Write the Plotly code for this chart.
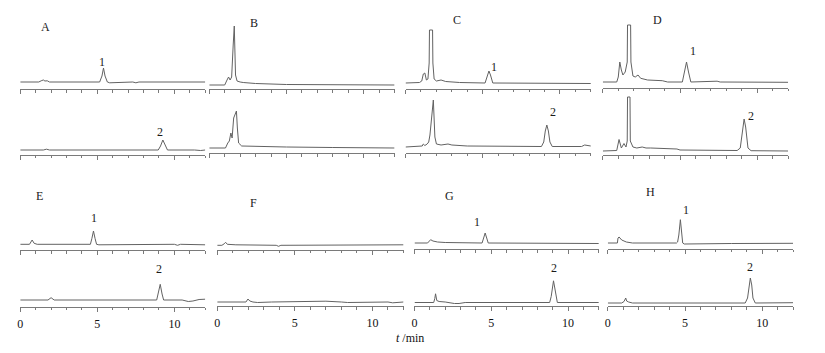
import plotly.graph_objects as go

# ---------------- data (time in min, detector signal in arbitrary units) ----------------
A_top_t = [0, 1.2, 1.4, 1.5, 1.6, 1.75, 1.9, 2.2, 5.15, 5.3, 5.4, 5.5, 5.65, 5.8, 7.3, 7.5, 7.7, 12]
A_top_y = [0, 0, 1.5, 2, 1, 1.2, 0, 0, 0, 6, 14, 6, 0, -0.8, 0, -0.8, 0, 0]
A_bot_t = [0, 1.5, 1.7, 1.9, 8.95, 9.1, 9.25, 9.4, 9.55, 11.3, 11.5, 11.7, 12]
A_bot_y = [0, 0, 0.8, 0, 0, 4, 10, 4, 0, 0, -0.5, -0.5, 0]

B_top_t = [0, 1.0, 1.15, 1.25, 1.35, 1.45, 1.55, 1.62, 1.7, 1.8, 2.0, 2.2, 3.0, 4.0, 5.0, 12]
B_top_y = [0, 0, 5, 8, 5, 8, 40, 59, 10, 4, 3, 2.5, 1.5, 1, 0.5, 0]
B_bot_t = [0, 1.05, 1.2, 1.3, 1.4, 1.48, 1.58, 1.66, 1.72, 1.76, 1.82, 1.9, 2.1, 3.0, 5.0, 8.0, 12]
B_bot_y = [0, 0, 5, 7, 15, 10, 30, 33, 36, 37, 20, 5, 2, 1.5, 1, 0.5, 0]

C_top_t = [0, 0.9, 1.05, 1.15, 1.25, 1.35, 1.45, 1.53, 1.55, 1.75, 1.77, 1.85, 2.0, 2.3, 2.6, 3.5,
           5.15, 5.3, 5.4, 5.5, 5.65, 12]
C_top_y = [0, 0.5, 2, 9, 10, 3, 4, 20, 53, 53, 20, 4, 2, 3, 1.5, 0.5, 0, 8, 12, 8, 0, -0.5]
C_bot_t = [0, 0.9, 1.08, 1.15, 1.25, 1.4, 1.5, 1.58, 1.7, 1.8, 1.9, 2.0, 2.3, 2.6, 2.75, 3.0, 4.0,
           8.8, 8.95, 9.05, 9.15, 9.25, 9.35, 9.5, 11.4, 11.6, 11.75, 12]
C_bot_y = [0, 0.5, 1, 3, 1.5, 3, 5, 12, 35, 47, 10, 3, 2, 2.5, 3, 2, 1,
           0.5, 5, 16, 22, 16, 5, 0.5, 0.5, 2, 1.5, 1]

D_top_t = [0, 0.9, 1.0, 1.1, 1.2, 1.3, 1.45, 1.58, 1.6, 1.8, 1.82, 1.95, 2.1, 2.28, 2.45, 2.9, 3.85, 4.2,
           5.15, 5.3, 5.42, 5.55, 5.7, 7.4, 7.6, 12]
D_top_y = [0, 0, 5, 20, 12, 7, 10, 20, 57, 57, 20, 6, 5, 7, 3.7, 2, 1.3, 0,
           0, 10, 20, 10, 0, 0.8, 0, -0.3]
D_bot_t = [0, 0.9, 1.05, 1.2, 1.37, 1.5, 1.58, 1.6, 1.76, 1.78, 1.95, 2.2, 2.55, 2.8, 3.1, 4.8, 5.0,
           8.7, 8.9, 9.05, 9.15, 9.25, 9.4, 9.6, 12]
D_bot_y = [0, 0.5, 11.5, 3, 7.5, 4, 10, 54, 54, 10, 4, 3, 4, 3, 3, 2, 1,
           0.5, 3, 24, 32, 24, 3, 0.3, 0]

E_top_t = [0, 0.6, 0.77, 0.9, 1.1, 4.55, 4.65, 4.75, 4.85, 4.95, 5.1, 10.0, 10.2, 10.4, 12]
E_top_y = [0, 0, 4.3, 1, 0, 0, 6, 13.3, 6, 0, -0.5, 0, -1, 0, -0.5]
E_bot_t = [0, 1.8, 2.0, 2.2, 8.85, 8.95, 9.08, 9.2, 9.3, 10.5, 10.9, 11.2, 11.6, 12]
E_bot_y = [0, 0, 2.3, 0, 0, 6, 15.7, 6, 0, 0, -1.5, -1, 0.5, 0.8]

F_top_t = [0, 0.3, 0.45, 0.54, 0.65, 0.9, 1.2, 3.8, 3.95, 4.1, 9.8, 10.0, 10.4, 12]
F_top_y = [0, 0, 1.5, 3, 1, 0.5, 0.5, 0, -1, 0, 0.3, 1, 0.5, 0.5]
F_bot_t = [0, 1.85, 1.98, 2.1, 2.3, 2.6, 3.5, 6.5, 7.0, 8.0, 8.4, 11.0, 11.3, 12]
F_bot_y = [0, 0, 3, 1, 0, -0.5, 0, 0.3, 0.8, 0, -0.5, 0, -0.8, 0]

G_top_t = [0, 0.85, 1.05, 1.2, 1.5, 2.0, 4.4, 4.5, 4.6, 4.7, 4.8, 12]
G_top_y = [0, 0, 3.3, 2, 1, 0.5, 0, 5, 10, 5, 0, -0.5]
G_bot_t = [0, 1.25, 1.32, 1.37, 1.45, 1.6, 2.0, 2.3, 2.6, 2.9, 3.3, 8.8, 8.9, 9.05, 9.2, 9.3, 12]
G_bot_y = [0, 0, 4, 8.7, 2, 1, 0.5, -0.5, -1, -1, 0, 0, 6, 21.7, 6, 0, 0]

H_top_t = [0, 0.62, 0.66, 0.73, 0.9, 1.2, 1.6, 4.45, 4.52, 4.6, 4.7, 4.8, 4.85, 4.95, 7.5, 8.0, 12]
H_top_y = [0, 0, 5, 6, 3, 1, 0, 0, 1, 8, 23.3, 8, 0, -1, 0, -0.5, -0.3]
H_bot_t = [0, 0.9, 1.05, 1.16, 1.22, 1.35, 1.6, 8.9, 9.05, 9.15, 9.23, 9.32, 9.4, 9.55, 11.5, 12]
H_bot_y = [0, 0, 1.5, 5, 2, 1, 0, 0, 5, 18, 25, 18, 5, 0, 0, 0.3]

panel_names = ["A", "B", "C", "D", "E", "F", "G", "H"]
x_title = "<i>t</i> /min"

# peak labels: (panel, trace, label, retention time, peak height)
peak_labels = [
    ("A", "top", "1", 5.4, 14), ("A", "bot", "2", 9.25, 10),
    ("C", "top", "1", 5.4, 12), ("C", "bot", "2", 9.15, 22),
    ("D", "top", "1", 5.42, 20), ("D", "bot", "2", 9.15, 32),
    ("E", "top", "1", 4.75, 13.3), ("E", "bot", "2", 9.08, 15.7),
    ("G", "top", "1", 4.6, 10), ("G", "bot", "2", 9.05, 21.7),
    ("H", "top", "1", 4.7, 23.3), ("H", "bot", "2", 9.23, 25),
]

traces = {
    ("A", "top"): (A_top_t, A_top_y), ("A", "bot"): (A_bot_t, A_bot_y),
    ("B", "top"): (B_top_t, B_top_y), ("B", "bot"): (B_bot_t, B_bot_y),
    ("C", "top"): (C_top_t, C_top_y), ("C", "bot"): (C_bot_t, C_bot_y),
    ("D", "top"): (D_top_t, D_top_y), ("D", "bot"): (D_bot_t, D_bot_y),
    ("E", "top"): (E_top_t, E_top_y), ("E", "bot"): (E_bot_t, E_bot_y),
    ("F", "top"): (F_top_t, F_top_y), ("F", "bot"): (F_bot_t, F_bot_y),
    ("G", "top"): (G_top_t, G_top_y), ("G", "bot"): (G_bot_t, G_bot_y),
    ("H", "top"): (H_top_t, H_top_y), ("H", "bot"): (H_bot_t, H_bot_y),
}

# ---------------- layout geometry (pixels) ----------------
W, H = 825, 353
PLOT_H = 70  # height of each strip in px (1 signal unit = 1 px)
# (x_left, x_right, axis line y, baseline y)
geom = {
    ("A", "top"): (17.3, 203, 89, 82), ("A", "bot"): (17.3, 203, 154.5, 150),
    ("B", "top"): (207, 393, 89, 85), ("B", "bot"): (207, 393, 153, 148),
    ("C", "top"): (404, 590, 88.5, 83), ("C", "bot"): (404, 590, 152.5, 147),
    ("D", "top"): (602, 788, 87.5, 82), ("D", "bot"): (602, 788, 155, 151),
    ("E", "top"): (17.3, 203, 250, 244.3), ("E", "bot"): (17.3, 203, 306.5, 300),
    ("F", "top"): (215, 402, 249.5, 245.3), ("F", "bot"): (215, 402, 306, 302),
    ("G", "top"): (413, 598, 249, 243), ("G", "bot"): (413, 598, 306, 302.5),
    ("H", "top"): (607, 793, 248.5, 243), ("H", "bot"): (607, 793, 306, 303),
}
letter_pos = {"A": (43, 27), "B": (252, 23), "C": (456, 20), "D": (657, 20),
              "E": (37, 196), "F": (251, 203), "G": (448, 196), "H": (650, 192)}
label_shift = {("A", "top"): (-1, 6), ("A", "bot"): (-2.5, 8),
               ("C", "top"): (5, 4), ("C", "bot"): (6, 13),
               ("D", "top"): (6, 11.5), ("D", "bot"): (7, 3),
               ("E", "top"): (1, 13.5), ("E", "bot"): (-1, 15),
               ("G", "top"): (-8, 11), ("G", "bot"): (0, 13),
               ("H", "top"): (6, 10), ("H", "bot"): (0, 11)}

FONT = "Liberation Serif, Times New Roman, serif"
LINE_COLOR = "#626262"
AXIS_COLOR = "#7a7a7a"

fig = go.Figure()
layout_axes = {}
axis_index = {}
i = 0
for p in panel_names:
    for pos in ["top", "bot"]:
        i += 1
        key = (p, pos)
        axis_index[key] = i
        t, y = traces[key]
        xs = "x" if i == 1 else f"x{i}"
        ys = "y" if i == 1 else f"y{i}"
        fig.add_trace(go.Scatter(x=t, y=y, mode="lines", xaxis=xs, yaxis=ys,
                                 line=dict(color=LINE_COLOR, width=1), showlegend=False,
                                 hoverinfo="skip"))
        x0, x1, ax_y, base_y = geom[key]
        gap = ax_y - base_y
        show_labels = (p in ["E", "F", "G", "H"]) and pos == "bot"
        xname = "xaxis" if i == 1 else f"xaxis{i}"
        yname = "yaxis" if i == 1 else f"yaxis{i}"
        layout_axes[xname] = dict(
            domain=[x0 / W, x1 / W], anchor=ys, range=[-0.001, 12.001],
            showline=True, linecolor=AXIS_COLOR, linewidth=1,
            ticks="outside", tick0=0, dtick=5, ticklen=4, tickwidth=1, tickcolor=AXIS_COLOR,
            minor=dict(ticks="outside", dtick=1, tick0=0, ticklen=2.5,
                       tickwidth=1, tickcolor=AXIS_COLOR),
            showticklabels=show_labels, showgrid=False, zeroline=False,
            tickfont=dict(family=FONT, size=12, color="#111111"),
            ticklabelstandoff=2, fixedrange=True,
        )
        layout_axes[yname] = dict(
            domain=[1 - ax_y / H, 1 - (ax_y - PLOT_H) / H], anchor=xs,
            range=[-gap, PLOT_H - gap], visible=False, showgrid=False,
            zeroline=False, fixedrange=True,
        )

annotations = []
for p in panel_names:
    lx, ly = letter_pos[p]
    annotations.append(dict(text=p, x=lx / W, y=1 - ly / H, xref="paper", yref="paper",
                            xanchor="center", yanchor="middle", showarrow=False,
                            font=dict(family=FONT, size=12, color="#1a1a1a")))
for (p, pos, lab, rt, hgt) in peak_labels:
    k = axis_index[(p, pos)]
    dx, dy = label_shift[(p, pos)]
    annotations.append(dict(text=lab, x=rt, y=hgt,
                            xref="x" if k == 1 else f"x{k}",
                            yref="y" if k == 1 else f"y{k}",
                            xanchor="center", yanchor="middle", xshift=dx, yshift=dy,
                            showarrow=False,
                            font=dict(family=FONT, size=12, color="#1a1a1a")))
annotations.append(dict(text=x_title, x=408 / W, y=1 - 338 / H, xref="paper", yref="paper",
                        xanchor="center", yanchor="middle", showarrow=False,
                        font=dict(family=FONT, size=12, color="#111111")))

fig.update_layout(
    width=W, height=H, margin=dict(l=0, r=0, t=0, b=0),
    paper_bgcolor="white", plot_bgcolor="rgba(0,0,0,0)",
    annotations=annotations, showlegend=False, **layout_axes,
)
fig.write_html("out.html")
